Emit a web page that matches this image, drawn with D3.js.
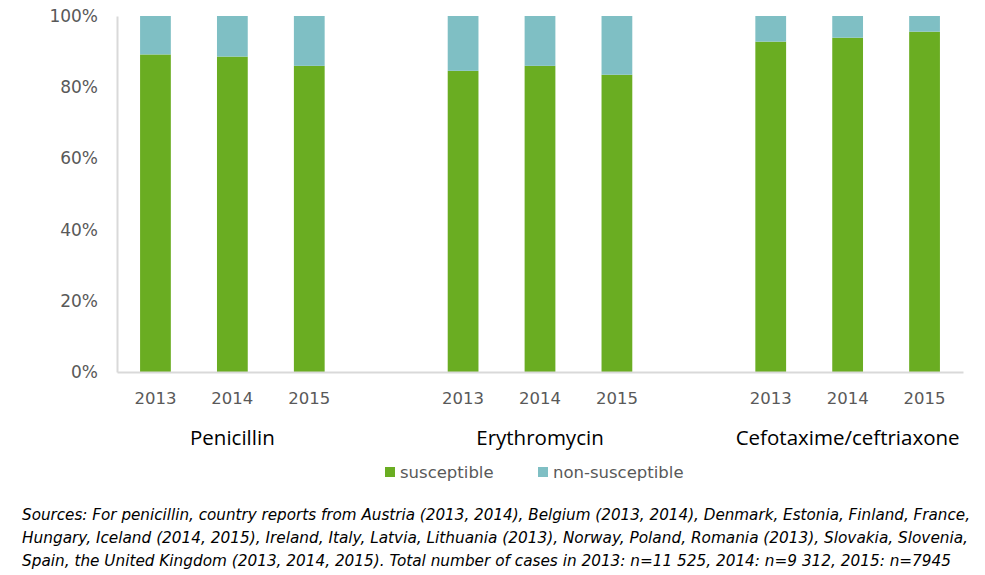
<!DOCTYPE html>
<html><head><meta charset="utf-8">
<script src="https://cdn.jsdelivr.net/npm/d3@7"></script>
<style>body{margin:0;background:#fff}svg{display:block}</style>
</head><body>
<svg id="c" width="985" height="575"></svg>
<script>
const drugs = ["Penicillin", "Erythromycin", "Cefotaxime/ceftriaxone"];
const years = ["2013", "2014", "2015"];
const susceptible = [
  [89.2, 88.6, 86.0],
  [84.6, 86.0, 83.5],
  [92.8, 93.9, 95.6]
];
const seriesNames = ["susceptible", "non-susceptible"];
const yTicks = [0, 20, 40, 60, 80, 100];
const footnote = [
  "Sources: For penicillin, country reports from Austria (2013, 2014), Belgium (2013, 2014), Denmark, Estonia, Finland, France,",
  "Hungary, Iceland (2014, 2015), Ireland, Italy, Latvia, Lithuania (2013), Norway, Poland, Romania (2013), Slovakia, Slovenia,",
  "Spain, the United Kingdom (2013, 2014, 2015). Total number of cases in 2013: n=11 525, 2014: n=9 312, 2015: n=7945"
];

(function () {
const colors = {"susceptible": "#6aad22", "non-susceptible": "#7fbfc4"};
const svg = d3.select("#c");
const mLeft = 117, mRight = 963, mTop = 16, mBottom = 372;

const slots = [];
drugs.forEach((d, i) => {
  years.forEach(y => slots.push(d + "|" + y));
  if (i < drugs.length - 1) slots.push("gap" + i);
});
const x = d3.scaleBand().domain(slots).range([mLeft, mRight]).paddingInner(0.6).paddingOuter(0.3);
const y = d3.scaleLinear().domain([0, 100]).range([mBottom, mTop]);

const rows = [];
drugs.forEach((d, i) => years.forEach((yr, j) => {
  rows.push({key: d + "|" + yr, drug: d, year: yr, s: susceptible[i][j]});
}));

const g = svg.append("g");
g.selectAll("rect.s").data(rows).join("rect").attr("class", "s")
  .attr("x", d => x(d.key)).attr("width", x.bandwidth())
  .attr("y", d => y(d.s)).attr("height", d => y(0) - y(d.s))
  .attr("fill", colors["susceptible"]);
g.selectAll("rect.n").data(rows).join("rect").attr("class", "n")
  .attr("x", d => x(d.key)).attr("width", x.bandwidth())
  .attr("y", d => y(100)).attr("height", d => y(d.s) - y(100))
  .attr("fill", colors["non-susceptible"]);

const yAxis = d3.axisLeft(y).tickValues(yTicks).tickFormat(d => d + "%").tickSize(0).tickPadding(19);
const ya = svg.append("g").attr("transform", `translate(${mLeft},0)`).call(yAxis);
ya.select(".domain").attr("stroke", "#d9d9d9").attr("stroke-width", 2);
ya.selectAll("text").attr("font-family", "DejaVu Sans").attr("font-size", 17).attr("fill", "#595959");

const xAxis = d3.axisBottom(x).tickValues(rows.map(r => r.key)).tickFormat(k => k.split("|")[1]).tickSize(0).tickPadding(20);
const xa = svg.append("g").attr("transform", `translate(0,${mBottom})`).call(xAxis);
xa.select(".domain").attr("stroke", "#d9d9d9").attr("stroke-width", 2);
xa.selectAll("text").attr("font-family", "DejaVu Sans").attr("font-size", 16.5).attr("fill", "#595959");

svg.selectAll("text.drug").data(drugs).join("text")
  .attr("class", "drug")
  .attr("x", d => x(d + "|2014") + x.bandwidth() / 2)
  .attr("y", 445)
  .attr("text-anchor", "middle")
  .attr("font-family", "Open Sans").attr("font-size", 20.5).attr("fill", "#000")
  .text(d => d);

const legX = [385, 538];
seriesNames.forEach((s, i) => {
  svg.append("rect").attr("x", legX[i]).attr("y", 467).attr("width", 10).attr("height", 10).attr("fill", colors[s]);
  svg.append("text").attr("x", legX[i] + 15).attr("y", 478)
    .attr("font-family", "DejaVu Sans").attr("font-size", 16.5).attr("fill", "#595959").text(s);
});

const fw = [948, 946, 929];
svg.selectAll("text.fn").data(footnote).join("text")
  .attr("class", "fn")
  .attr("x", 22).attr("y", (d, i) => 520 + i * 23)
  .attr("font-family", "DejaVu Sans").attr("font-style", "italic")
  .attr("font-size", 15).attr("fill", "#000")
  .attr("textLength", (d, i) => fw[i]).attr("lengthAdjust", "spacingAndGlyphs")
  .text(d => d);
})();
</script>
</body></html>
